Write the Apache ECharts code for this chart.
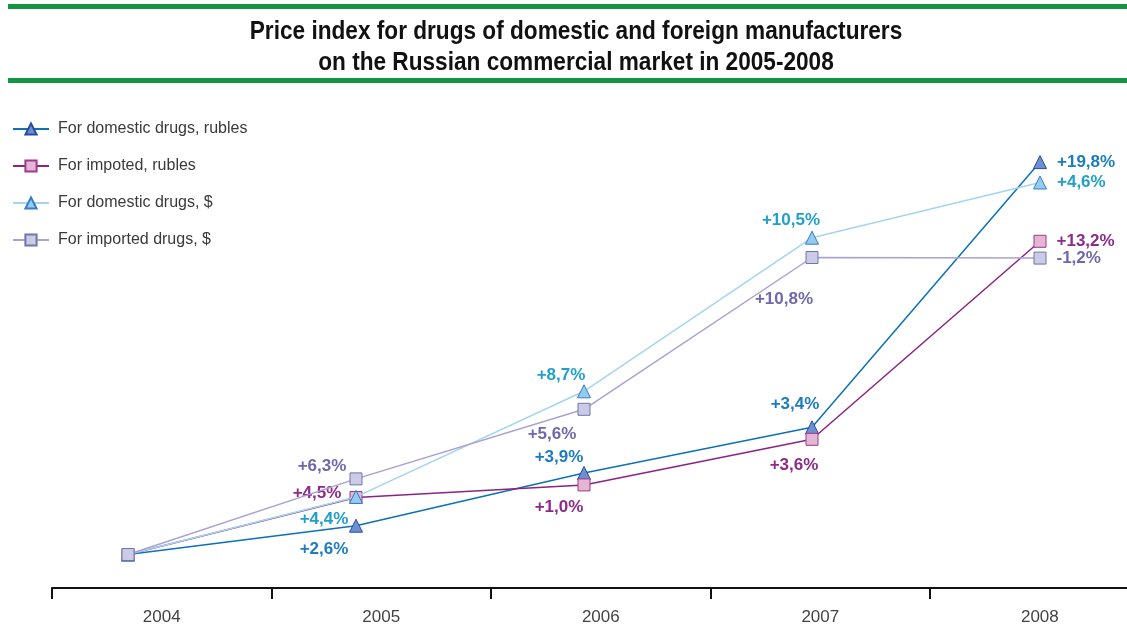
<!DOCTYPE html>
<html>
<head>
<meta charset="utf-8">
<script src="https://cdn.jsdelivr.net/npm/echarts@6/dist/echarts.min.js"></script>
<style>
  html, body { margin: 0; padding: 0; background: #fff; }
  #chart { width: 1127px; height: 626px; }
</style>
</head>
<body>
<div id="chart"></div>
<script>
// Years on the horizontal axis
var years = ['2004', '2005', '2006', '2007', '2008'];

// Series names
var seriesNames = [
  'For domestic drugs, rubles',
  'For impoted, rubles',
  'For domestic drugs, $',
  'For imported drugs, $'
];

// Chart heading
var titleLines = [
  'Price index for drugs of domestic and foreign manufacturers',
  'on the Russian commercial market in 2005-2008'
];

// Cumulative price index (2004 = 100)
var domesticRub = [100, 102.4, 106.8, 110.6, 132.7];
var importedRub = [100, 104.75, 105.8, 109.6, 126.1];
var domesticUsd = [100, 104.8, 113.6, 126.4, 131.0];
var importedUsd = [100, 106.3, 112.1, 124.75, 124.7];

// Year-over-year growth labels
var domesticRubGrowth = ['', '+2,6%', '+3,9%', '+3,4%', '+19,8%'];
var importedRubGrowth = ['', '+4,5%', '+1,0%', '+3,6%', '+13,2%'];
var domesticUsdGrowth = ['', '+4,4%', '+8,7%', '+10,5%', '+4,6%'];
var importedUsdGrowth = ['', '+6,3%', '+5,6%', '+10,8%', '-1,2%'];

// Label placement relative to each point (null = right of the marker)
var labelOffsets = [
  [null, [-32, 24], [-25, -16], [-17, -23], null],
  [null, [-39, -4], [-25, 22], [-18, 26], null],
  [null, [-32, 22], [-23, -16], [-21, -17], null],
  [null, [-34, -13], [-32, 25], [-28, 42], null]
];

var styles = [
  { line: '#0c71b6', fill: '#6b90d2', border: '#2b4c9c', text: '#1b7cbf', symbol: 'triangle', size: 13 },
  { line: '#8b2383', fill: '#e5b5d4', border: '#9a3b8b', text: '#8d2a8b', symbol: 'rect', size: 12 },
  { line: '#a3d5f0', fill: '#92cdf0', border: '#3a7bc1', text: '#21a0c9', symbol: 'triangle', size: 13 },
  { line: '#aaa1d2', fill: '#cbcae7', border: '#6f77a8', text: '#6f68ad', symbol: 'rect', size: 12 }
];

var values = [domesticRub, importedRub, domesticUsd, importedUsd];
var growth = [domesticRubGrowth, importedRubGrowth, domesticUsdGrowth, importedUsdGrowth];

var FONT = '"Liberation Sans", Arial, sans-serif';

function buildSeries(i) {
  var st = styles[i];
  var data = values[i].map(function (v, k) {
    var item = { value: v };
    var text = growth[i][k];
    if (!text) {
      item.label = { show: false };
    } else if (labelOffsets[i][k]) {
      item.label = { show: true, position: 'inside', offset: labelOffsets[i][k], formatter: text };
    } else {
      item.label = { show: true, position: 'right', distance: 10, formatter: text };
    }
    return item;
  });
  return {
    name: seriesNames[i],
    type: 'line',
    xAxisIndex: 0,
    yAxisIndex: 0,
    data: data,
    symbol: st.symbol,
    symbolSize: st.size,
    showAllSymbol: true,
    lineStyle: { color: st.line, width: 1.5 },
    itemStyle: { color: st.fill, borderColor: st.border, borderWidth: 1 },
    label: {
      color: st.text,
      fontFamily: FONT,
      fontWeight: 'bold',
      fontSize: 17
    },
    emphasis: { disabled: true },
    animation: false,
    z: 2 + i
  };
}

function titleText(text, y) {
  return {
    type: 'text',
    x: 576,
    y: y,
    scaleX: 0.905,
    style: {
      text: text,
      x: 0,
      y: 0,
      align: 'center',
      verticalAlign: 'middle',
      fontFamily: FONT,
      fontWeight: 'bold',
      fontSize: 25,
      fill: '#111'
    }
  };
}

// Year slots on the visible axis: label at each year index, ticks between them
var yearIdx = years.map(function (y, k) { return k; });
var yearBounds = years.map(function (y, k) { return k - 0.5; });

var chart = echarts.init(document.getElementById('chart'), null, { renderer: 'canvas' });

chart.setOption({
  backgroundColor: '#ffffff',
  animation: false,
  graphic: [
    { type: 'rect', shape: { x: 8, y: 4, width: 1119, height: 5 }, style: { fill: '#12963f' } },
    { type: 'rect', shape: { x: 8, y: 78, width: 1119, height: 5 }, style: { fill: '#12963f' } },
    titleText(titleLines[0], 32),
    titleText(titleLines[1], 63)
  ],
  legend: {
    orient: 'vertical',
    left: 12,
    top: 121,
    padding: 0,
    itemWidth: 36,
    itemHeight: 14,
    itemGap: 21,
    textStyle: { fontFamily: FONT, fontSize: 16, color: '#3a3a3a', padding: [0, 0, 0, 4] },
    data: seriesNames
  },
  grid: [
    { left: 128, right: 87, top: 122.5, bottom: 23.5 },
    { left: 52, right: 0, top: 100, bottom: 33.5 }
  ],
  xAxis: [
    {
      type: 'category',
      gridIndex: 0,
      data: years,
      boundaryGap: false,
      show: false
    },
    {
      type: 'value',
      gridIndex: 1,
      min: -0.5,
      max: 4.397,
      axisLine: { show: true, onZero: false, lineStyle: { color: '#111', width: 2 } },
      axisTick: { show: true, length: 11, customValues: yearBounds, lineStyle: { color: '#111', width: 2 } },
      axisLabel: {
        fontFamily: FONT, fontSize: 17, color: '#444', margin: 21,
        customValues: yearIdx,
        formatter: function (v) { return years[Math.round(v)]; }
      },
      splitLine: { show: false }
    }
  ],
  yAxis: [
    { type: 'value', gridIndex: 0, min: 96, max: 136, show: false },
    { type: 'value', gridIndex: 1, show: false }
  ],
  series: [0, 1, 2, 3].map(buildSeries)
});
</script>
</body>
</html>
